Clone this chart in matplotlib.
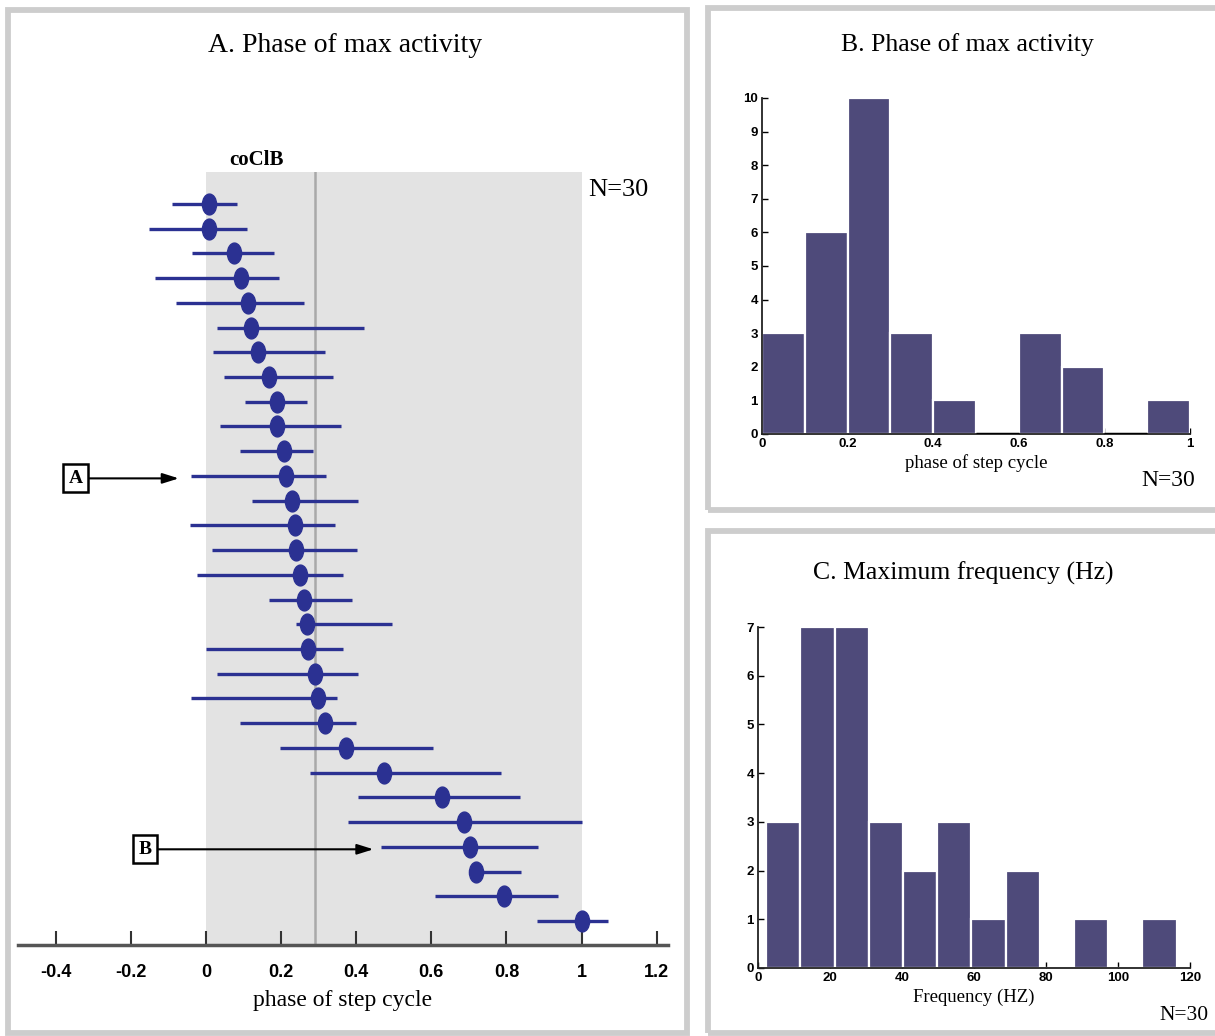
"""Phase of max activity (A, B) and maximum frequency (C) for 30 coClB units."""

import matplotlib

matplotlib.use("Agg")

import matplotlib.pyplot as plt
from matplotlib.patches import Rectangle
from matplotlib.path import Path
from matplotlib.transforms import Affine2D

# --- panel A: per-unit phase of max activity (mean and range), top to bottom
phase_mean = [0.008, 0.008, 0.074, 0.093, 0.111, 0.120, 0.140, 0.168, 0.189, 0.189,
              0.207, 0.213, 0.229, 0.236, 0.240, 0.250, 0.262, 0.268, 0.273, 0.291,
              0.299, 0.318, 0.373, 0.475, 0.628, 0.686, 0.702, 0.720, 0.794, 1.000]
phase_lo = [-0.089, -0.151, -0.036, -0.135, -0.079, 0.029, 0.019, 0.049, 0.105, 0.038,
            0.091, -0.040, 0.122, -0.043, 0.016, -0.023, 0.167, 0.241, 0.000, 0.029,
            -0.040, 0.090, 0.197, 0.278, 0.406, 0.379, 0.465, 0.702, 0.610, 0.882]
phase_hi = [0.083, 0.110, 0.182, 0.195, 0.261, 0.421, 0.316, 0.338, 0.270, 0.360,
            0.284, 0.321, 0.404, 0.345, 0.401, 0.364, 0.390, 0.496, 0.364, 0.404,
            0.348, 0.400, 0.605, 0.786, 0.835, 1.000, 0.885, 0.838, 0.937, 1.069]
mean_phase_line = 0.29
phase_ticks = [-0.4, -0.2, 0, 0.2, 0.4, 0.6, 0.8, 1, 1.2]
phase_ticklabels = ["-0.4", "-0.2", "0", "0.2", "0.4", "0.6", "0.8", "1", "1.2"]
callouts = {"A": 11, "B": 26}  # row index each labelled arrow points at

# --- panel B: histogram of phase
phase_bin_left = [0.0, 0.1, 0.2, 0.3, 0.4, 0.5, 0.6, 0.7, 0.8, 0.9]
phase_counts = [3, 6, 10, 3, 1, 0, 3, 2, 0, 1]
phase_hist_ticks = [0, 0.2, 0.4, 0.6, 0.8, 1]
phase_hist_ticklabels = ["0", "0.2", "0.4", "0.6", "0.8", "1"]

# --- panel C: histogram of maximum frequency
freq_bin_left = [2.3, 11.8, 21.3, 30.8, 40.3, 49.8, 59.3, 68.8, 78.3, 87.8, 97.3, 106.8]
freq_counts = [3, 7, 7, 3, 2, 3, 1, 2, 0, 1, 0, 1]
freq_bin_width = 9.5
freq_ticks = [0, 20, 40, 60, 80, 100, 120]

DOT_BLUE = "#2b3192"
BAR_COLOR = "#4e4a7a"
BORDER = "#cdcdcd"
SERIF = "Liberation Serif"
SANS = "Liberation Sans"

W, H = 1215, 1036
fig = plt.figure(figsize=(W / 100, H / 100), dpi=100)


def fx(px):
    return px / W


def fy(py):
    return 1 - py / H


# panel frames
for x0, y0, x1, y1 in [(8, 10, 687, 1033), (708, 8, 1222, 510), (708, 531, 1222, 1033)]:
    fig.patches.append(Rectangle((fx(x0), fy(y1)), fx(x1) - fx(x0), fy(y0) - fy(y1),
                                 transform=fig.transFigure, fill=False,
                                 edgecolor=BORDER, linewidth=4.2))

# ---------------- panel A ----------------
axA = fig.add_axes([fx(18), fy(945), fx(668) - fx(18), fy(172) - fy(945)])
n_units = len(phase_mean)
rows = [n_units - 1 - i for i in range(n_units)]
axA.set_xlim(-0.5, 1.23)
axA.set_ylim(-0.97, n_units - 1 + 1.29)
axA.axvspan(0, 1, color="#e3e3e3", zorder=0, linewidth=0)
axA.axvline(mean_phase_line, color="#a9a9a9", linewidth=1.8, zorder=1)

ellipse = Path.unit_circle().transformed(Affine2D().scale(0.68, 1.0))
axA.hlines(rows, phase_lo, phase_hi, color=DOT_BLUE, linewidth=2.4, zorder=3)
axA.plot(phase_mean, rows, linestyle="none", marker=ellipse, markersize=15,
         color=DOT_BLUE, zorder=4)

label_x = {"A": -0.346, "B": -0.162}
tip_x = {"A": -0.072, "B": 0.446}
for name, row_index in callouts.items():
    y = rows[row_index] - 0.1
    axA.annotate(name, xy=(tip_x[name], y), xytext=(label_x[name], y),
                 ha="center", va="center", fontfamily=SERIF, fontweight="bold",
                 fontsize=14,
                 bbox=dict(boxstyle="square,pad=0.28", facecolor="white",
                           edgecolor="black", linewidth=1.8),
                 arrowprops=dict(arrowstyle="-|>,head_length=0.7,head_width=0.22",
                                 color="black", linewidth=1.5, shrinkA=0, shrinkB=0),
                 zorder=5)

for side in ["top", "right", "left"]:
    axA.spines[side].set_visible(False)
axA.spines["bottom"].set_color("#555555")
axA.spines["bottom"].set_linewidth(2.5)
axA.set_yticks([])
axA.set_xticks(phase_ticks)
axA.set_xticklabels(phase_ticklabels, fontfamily=SANS, fontweight="bold", fontsize=13)
axA.tick_params(axis="x", direction="in", length=10, width=1.5, color="#333333", pad=14)
axA.set_xlabel("phase of step cycle", fontfamily=SERIF, fontsize=17, labelpad=6)

fig.text(fx(345), fy(45), "A. Phase of max activity", ha="center", va="center",
         fontfamily=SERIF, fontsize=20)
fig.text(fx(256), fy(160), "coClB", ha="center", va="center",
         fontfamily=SERIF, fontweight="bold", fontsize=15)
fig.text(fx(618), fy(190), "N=30", ha="center", va="center",
         fontfamily=SERIF, fontsize=19)


def style_hist(ax, ticks, ticklabels):
    for side in ["top", "right"]:
        ax.spines[side].set_visible(False)
    for side in ["left", "bottom"]:
        ax.spines[side].set_color("#222222")
        ax.spines[side].set_linewidth(1.3)
    ax.set_xticks(ticks)
    ax.set_xticklabels(ticklabels)
    ax.tick_params(direction="in", length=4, width=1, pad=3)
    for lab in ax.get_xticklabels() + ax.get_yticklabels():
        lab.set_fontfamily(SANS)
        lab.set_fontweight("bold")
        lab.set_fontsize(9.5)


# ---------------- panel B ----------------
axB = fig.add_axes([fx(762), fy(434), fx(1190) - fx(762), fy(98) - fy(434)])
axB.bar(phase_bin_left, phase_counts, width=0.1, align="edge", color=BAR_COLOR,
        edgecolor="white", linewidth=1.6, zorder=2)
for left, count in zip(phase_bin_left, phase_counts):
    if count == 0:
        axB.hlines(0, left, left + 0.1, color="black", linewidth=2.5, zorder=3)
axB.set_xlim(0, 1)
axB.set_ylim(0, 10)
axB.set_yticks(range(0, 11))
style_hist(axB, phase_hist_ticks, phase_hist_ticklabels)
axB.set_xlabel("phase of step cycle", fontfamily=SERIF, fontsize=13.5, labelpad=3)
fig.text(fx(967), fy(45), "B. Phase of max activity", ha="center", va="center",
         fontfamily=SERIF, fontsize=18.5)
fig.text(fx(1168), fy(480), "N=30", ha="center", va="center",
         fontfamily=SERIF, fontsize=17)

# ---------------- panel C ----------------
axC = fig.add_axes([fx(758), fy(968), fx(1190) - fx(758), fy(627) - fy(968)])
axC.bar(freq_bin_left, freq_counts, width=freq_bin_width, align="edge",
        color=BAR_COLOR, edgecolor="white", linewidth=1.6, zorder=2)
axC.set_xlim(0, 120)
axC.set_ylim(0, 7)
axC.set_yticks(range(0, 8))
style_hist(axC, freq_ticks, [str(t) for t in freq_ticks])
axC.set_xlabel("Frequency (HZ)", fontfamily=SERIF, fontsize=13.5, labelpad=3)
fig.text(fx(963), fy(573), "C. Maximum frequency (Hz)", ha="center", va="center",
         fontfamily=SERIF, fontsize=18.5)
fig.text(fx(1184), fy(1015), "N=30", ha="center", va="center",
         fontfamily=SERIF, fontsize=15.5)

fig.savefig("out.png", dpi=100)
